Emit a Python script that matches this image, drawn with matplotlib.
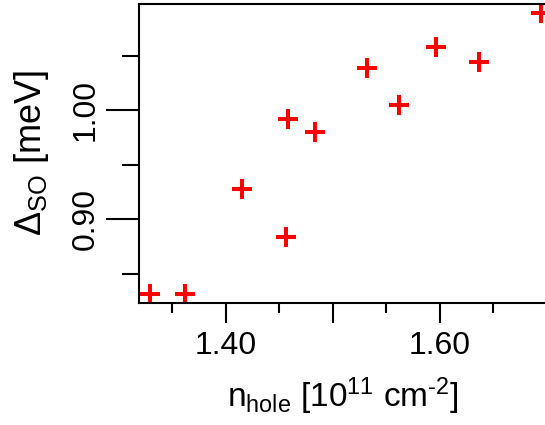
import matplotlib
matplotlib.use("Agg")
import matplotlib.pyplot as plt
from matplotlib.ticker import FixedLocator, FuncFormatter

plt.rcParams['font.family'] = ['Liberation Sans', 'DejaVu Sans']
plt.rcParams['mathtext.fontset'] = 'custom'
plt.rcParams['mathtext.rm'] = 'Liberation Sans'
plt.rcParams['mathtext.it'] = 'Liberation Sans'

n_hole = [1.3287, 1.3617, 1.4152, 1.4558, 1.4579, 1.4835, 1.5315, 1.5620, 1.5963, 1.6367, 1.6944]
delta_so = [0.8318, 0.8312, 0.9275, 0.8838, 0.9917, 0.9801, 1.0383, 1.0046, 1.0581, 1.0440, 1.0887]

x_major = [1.40, 1.50, 1.60]
x_minor = [1.35, 1.45, 1.55, 1.65]
x_labels = {1.40: "1.40", 1.60: "1.60"}
y_major = [0.90, 1.00]
y_minor = [0.85, 0.95, 1.05]
y_labels = {0.90: "0.90", 1.00: "1.00"}

fig = plt.figure(figsize=(5.45, 4.25), dpi=100)
ax = fig.add_axes([139/545, 1-303/425, (547-139)/545, (303-4)/425])

ax.plot(n_hole, delta_so, linestyle='none', marker='+', color='#ff0000',
        markersize=13.7, markeredgewidth=2.9, clip_on=False)

ax.set_xlim(1.3187, 1.70)
ax.set_ylim(0.8232, 1.0972)

ax.xaxis.set_major_locator(FixedLocator(x_major))
ax.xaxis.set_minor_locator(FixedLocator(x_minor))
ax.yaxis.set_major_locator(FixedLocator(y_major))
ax.yaxis.set_minor_locator(FixedLocator(y_minor))
ax.xaxis.set_major_formatter(FuncFormatter(lambda v, p: next((s for k, s in x_labels.items() if abs(k - v) < 1e-6), "")))
ax.yaxis.set_major_formatter(FuncFormatter(lambda v, p: next((s for k, s in y_labels.items() if abs(k - v) < 1e-6), "")))

ax.tick_params(axis='x', which='major', direction='out', length=14.5, width=1.5, labelsize=23, pad=6)
ax.tick_params(axis='x', which='minor', direction='out', length=7.2, width=1.5)
ax.tick_params(axis='y', which='major', direction='out', length=23.5, width=1.5, labelsize=23, pad=4)
ax.tick_params(axis='y', which='minor', direction='out', length=12, width=1.5)
for lab in ax.get_yticklabels():
    lab.set_rotation(90)
    lab.set_va('center')

for s in ax.spines.values():
    s.set_linewidth(1.5)

ax.set_xlabel(r'n$_{\mathrm{hole}}$ [10$^{11}$ cm$^{\text{-}2}$]', fontsize=24, labelpad=10)
ax.set_ylabel(r'$\Delta_{\mathrm{SO}}$ [meV]', fontsize=26, labelpad=14)

fig.savefig('out.png', dpi=100)
